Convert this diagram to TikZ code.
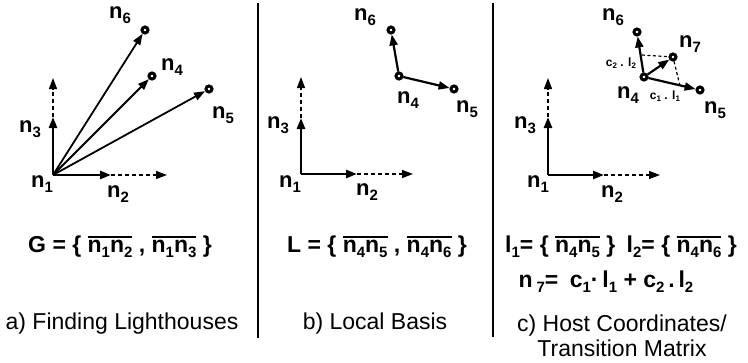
\documentclass[tikz,border=0pt]{standalone}
\usepackage{fontspec}
\setmainfont{Liberation Sans}
\usetikzlibrary{arrows.meta}
\newcommand{\lsub}[1]{\raisebox{-5pt}{\fontsize{15}{15}\selectfont #1}}
\newcommand{\nlab}[1]{n\lsub{#1}}
\newcommand{\ssub}[1]{\raisebox{-2.5pt}{\fontsize{8}{8}\selectfont #1}}
\newcommand{\ovl}[1]{\leavevmode\vbox{\hrule height 1.6pt \kern 3pt \hbox{#1}}}
\begin{document}
\begin{tikzpicture}[x=1pt,y=-1pt,
    lhouse/.style={circle, draw, fill=white, line width=3pt, minimum size=6pt, inner sep=0pt},
    vec/.style={-{Triangle[length=11pt,width=8pt]}, line width=1.8pt},
    axis/.style={-{Triangle[length=11pt,width=8pt]}, line width=2.6pt},
    ext/.style={-{Triangle[length=11pt,width=8pt]}, line width=1.3pt, dash pattern=on 4pt off 3pt},
    proj/.style={line width=1.2pt, dash pattern=on 3pt off 2.5pt},
    lab/.style={font=\fontsize{22}{22}\selectfont\bfseries, inner sep=0pt},
    small/.style={font=\fontsize{12}{12}\selectfont\bfseries, inner sep=0pt},
    frm/.style={font=\fontsize{23}{26}\selectfont\bfseries, inner sep=0pt},
    caption/.style={font=\fontsize{23}{25}\selectfont, align=center, inner sep=0pt}
  ]
  \useasboundingbox (0,0) rectangle (748,362);

  % dividers
  \draw[line width=1.3pt] (258,3) -- (258,338);
  \draw[line width=1.3pt] (493,3) -- (493,337);

  % a) finding lighthouses
  \coordinate (oa) at (53,175);
  \coordinate (xa) at (111,175);  \coordinate (xxa) at (167,175);
  \coordinate (ya) at (53,117);   \coordinate (yya) at (53,78);
  \draw[axis] (oa) -- (xa);  \draw[ext] (xa) -- (xxa);
  \draw[axis] (oa) -- (ya);  \draw[ext] (ya) -- (yya);
  \node[lhouse] (a6) at (145,30) {};
  \node[lhouse] (a4) at (152,76) {};
  \node[lhouse] (a5) at (209,89) {};
  \draw[vec] (oa) -- (a6);
  \draw[vec] (oa) -- (a4);
  \draw[vec] (oa) -- (a5);
  \node[lab] (la6) at (120,15)  {\nlab{6}};
  \node[lab] (la4) at (172,67)  {\nlab{4}};
  \node[lab] (la5) at (223,115) {\nlab{5}};
  \node[lab] (la3) at (30,129)  {\nlab{3}};
  \node[lab] (la1) at (42,184)  {\nlab{1}};
  \node[lab] (la2) at (118,194) {\nlab{2}};

  % b) local basis
  \coordinate (ob) at (301,174);
  \coordinate (xb) at (357,174);  \coordinate (xxb) at (413,174);
  \coordinate (yb) at (301,118);  \coordinate (yyb) at (301,77);
  \draw[axis] (ob) -- (xb);  \draw[ext] (xb) -- (xxb);
  \draw[axis] (ob) -- (yb);  \draw[ext] (yb) -- (yyb);
  \node[lhouse] (b4) at (399,76) {};
  \node[lhouse] (b6) at (391,30) {};
  \node[lhouse] (b5) at (454,89) {};
  \draw[vec, line width=2.2pt] (b4) -- (b6);
  \draw[vec, line width=2.2pt] (b4) -- (b5);
  \node[lab] (lb6) at (365,17)  {\nlab{6}};
  \node[lab] (lb4) at (408,100) {\nlab{4}};
  \node[lab] (lb5) at (467,109) {\nlab{5}};
  \node[lab] (lb3) at (278,125) {\nlab{3}};
  \node[lab] (lb1) at (290,184) {\nlab{1}};
  \node[lab] (lb2) at (367,192) {\nlab{2}};

  % c) host coordinates
  \coordinate (oc) at (548,175);
  \coordinate (xc) at (604,175);  \coordinate (xxc) at (660,175);
  \coordinate (yc) at (548,117);  \coordinate (yyc) at (548,78);
  \draw[axis] (oc) -- (xc);  \draw[ext] (xc) -- (xxc);
  \draw[axis] (oc) -- (yc);  \draw[ext] (yc) -- (yyc);
  \node[lhouse] (c4) at (644,77) {};
  \node[lhouse] (c6) at (637,32) {};
  \node[lhouse] (c5) at (700,90) {};
  \node[lhouse] (c7) at (673,57) {};
  \coordinate (p2) at (642,55);
  \coordinate (p1) at (680,86);
  \draw[proj] (p2) -- (c7) -- (p1);
  \draw[vec, line width=2.2pt] (c4) -- (c6);
  \draw[vec, line width=2.2pt] (c4) -- (c5);
  \draw[vec, line width=2.2pt] (c4) -- (c7);
  \node[small] (k2) at (621,63) {c\ssub{2} . l\ssub{2}};
  \node[small] (k1) at (665,96) {c\ssub{1} . l\ssub{1}};
  \node[lab] (lc6) at (613,17)  {\nlab{6}};
  \node[lab] (lc7) at (690,44)  {\nlab{7}};
  \node[lab] (lc4) at (628,95)  {\nlab{4}};
  \node[lab] (lc5) at (715,110) {\nlab{5}};
  \node[lab] (lc3) at (525,125) {\nlab{3}};
  \node[lab] (lc1) at (538,184) {\nlab{1}};
  \node[lab] (lc2) at (612,194) {\nlab{2}};

  % formulas
  \node[frm] (fa) at (120,247) {G = \{ \ovl{\nlab{1}\nlab{2}} , \ovl{\nlab{1}\nlab{3}} \}};
  \node[frm] (fb) at (377,247) {L = \{ \ovl{\nlab{4}\nlab{5}} , \ovl{\nlab{4}\nlab{6}} \}};
  \node[frm] (fc) at (621,247) {l\lsub{1}= \{ \ovl{\nlab{4}\nlab{5}} \}\enspace l\lsub{2}= \{ \ovl{\nlab{4}\nlab{6}} \}};
  \node[frm] (fd) at (606,282) {n\,\lsub{7}=\enspace c\lsub{1}\textperiodcentered\,l\lsub{1} + c\lsub{2}\,.\,l\lsub{2}};

  % captions
  \node[caption] (ca) at (122,324) {a) Finding Lighthouses};
  \node[caption] (cb) at (375,324) {b) Local Basis};
  \node[caption] (cc) at (622,336) {c) Host Coordinates/\\Transition Matrix};
\end{tikzpicture}
\end{document}
